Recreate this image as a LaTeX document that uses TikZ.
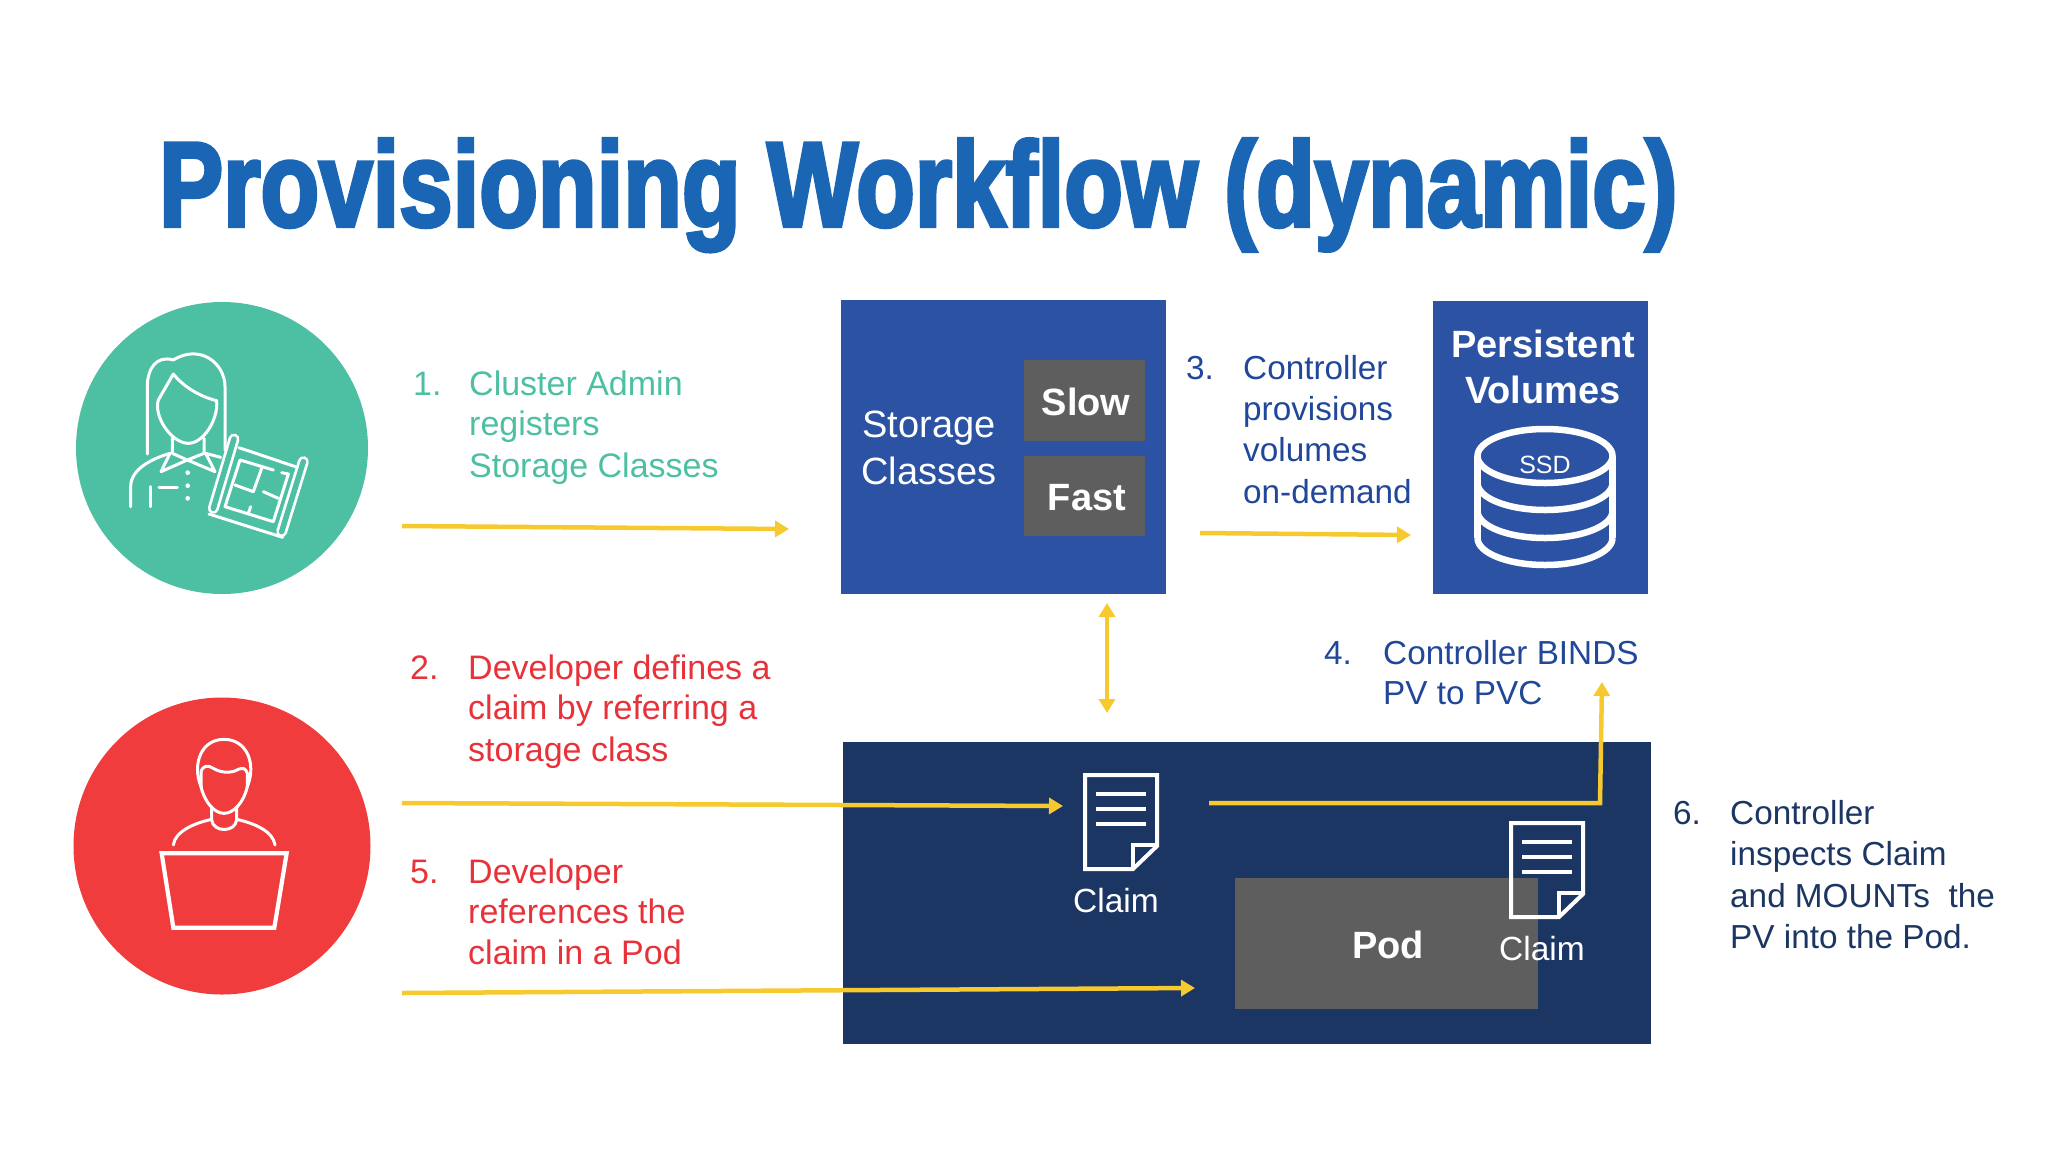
\documentclass[tikz,border=0pt]{standalone}
\usepackage{fontspec}
\setmainfont{Liberation Sans}
\newfontfamily\titlefont[FakeBold=3.5]{Liberation Sans Bold}
\usepackage{tikz}
\usetikzlibrary{arrows.meta}
\definecolor{admingreen}{HTML}{4DBFA3}
\definecolor{devred}{HTML}{F03C3C}
\definecolor{devtext}{HTML}{E8323A}
\definecolor{boxblue}{HTML}{2B52A3}
\definecolor{ctrlblue}{HTML}{21479A}
\definecolor{navy}{HTML}{1C3664}
\definecolor{podgray}{HTML}{5F5E5E}
\definecolor{flowyellow}{HTML}{F6C92E}
\definecolor{titleblue}{HTML}{1A66B5}
\tikzset{
    itemtxt/.style={anchor=base west, inner sep=0pt, font=\fontsize{34}{41}\selectfont},
    ctrltxt/.style={itemtxt, font=\fontsize{33.3}{41}\selectfont},
    boxtxt/.style={anchor=base, inner sep=0pt, text=white, font=\fontsize{38}{46}\selectfont},
    boldtxt/.style={boxtxt, font=\fontsize{38}{46}\selectfont\bfseries},
    panel/.style={anchor=north west, inner sep=0pt, outer sep=0pt},
    person/.style={circle, inner sep=0pt, outer sep=0pt},
    flow/.style={flowyellow, line width=4.5pt, -{Triangle[length=14pt,width=16pt]}},
    iconline/.style={white, line width=3pt, line cap=round, line join=round},
    docline/.style={white, line width=4pt, line join=miter},
}
\begin{document}
\begin{tikzpicture}[x=1pt,y=-1pt]
    \useasboundingbox (0,0) rectangle (2048,1152);

    \node[anchor=base west, inner sep=0pt, xscale=.8, transform shape, text=titleblue,
        font=\fontsize{120}{120}\titlefont] (title) at (159,226) {Provisioning Workflow (dynamic)};

    % round people
    \node[person, fill=admingreen, minimum size=292pt] (admin) at (222,448) {};
    \node[person, fill=devred, minimum size=297pt] (dev) at (222,846) {};

    % admin icon
    \begin{scope}[shift={(60,290)},scale=1/3]
        \draw[iconline] (262,492) -- (262,290) .. controls (262,235) and (290,195) .. (340,210)
            .. controls (420,160) and (495,220) .. (495,290) -- (495,480);
        \draw[iconline] (340,252) .. controls (370,290) and (420,320) .. (470,332)
            .. controls (475,390) and (430,460) .. (385,460)
            .. controls (335,460) and (280,380) .. (295,330) -- cycle;
        \draw[iconline] (337,445) -- (337,490) -- (382,510) -- (432,490) -- (432,445);
        \draw[iconline] (330,490) -- (303,545) -- (382,510) -- (465,545) -- (437,490) -- (482,502);
        \draw[iconline] (212,650) -- (212,590) .. controls (212,535) and (280,505) .. (330,490);
        \draw[iconline] (272,590) -- (272,650) (297,593) -- (352,593);
        \foreach \y in {548,587,625}
            \fill[white] (383,\y) circle (7);
        % blueprint
        \foreach \x/\y/\u/\v in {522/447/460/655, 730/515/665/725} {
            \draw[white, line width=11pt, line cap=round] (\x,\y) -- (\u,\v);
            \draw[admingreen, line width=5.5pt, line cap=round] (\x,\y) -- (\u,\v);
        }
        \draw[iconline] (537,473) -- (712,532);
        \draw[iconline] (447,672) -- (668,742);
        \draw[iconline] (640,540) -- (540,510) -- (495,650) -- (640,695) -- (685,552) -- (665,548);
        \draw[iconline] (525,585) -- (580,605) (610,605) -- (655,625);
        \draw[iconline] (605,535) -- (580,605) (572,650) -- (565,670);
    \end{scope}

    % developer icon
    \begin{scope}[shift={(60,690)},scale=1/3]
        \draw[iconline] (423,290) .. controls (395,220) and (425,148) .. (492,148)
            .. controls (560,148) and (590,220) .. (562,290);
        \draw[iconline] (423,290) -- (423,245) .. controls (430,225) and (445,225) .. (460,235)
            .. controls (485,250) and (515,250) .. (535,238) .. controls (548,232) and (558,235) .. (562,250) -- (562,290);
        \draw[iconline] (423,290) .. controls (435,340) and (465,370) .. (492,370)
            .. controls (520,370) and (550,340) .. (562,290);
        \draw[iconline] (455,350) -- (455,390) .. controls (460,428) and (525,428) .. (530,390) -- (530,350);
        \draw[iconline] (340,465) .. controls (345,425) and (400,400) .. (455,388);
        \draw[iconline] (645,465) .. controls (640,425) and (585,400) .. (530,388);
        \draw[white, line width=4.2pt] (305,490) -- (680,490) -- (643,713) -- (340,713) -- cycle;
    \end{scope}

    % panels
    \node[panel, fill=boxblue, minimum width=325pt, minimum height=294pt] (storage) at (841,300) {};
    \node[panel, fill=boxblue, minimum width=215pt, minimum height=293pt] (pv) at (1433,301) {};
    \node[panel, fill=podgray, minimum width=121pt, minimum height=81pt] (slow) at (1024,360) {};
    \node[panel, fill=podgray, minimum width=121pt, minimum height=80pt] (fast) at (1024,456) {};
    \node[panel, fill=navy, minimum width=808pt, minimum height=302pt] (cluster) at (843,742) {};
    \node[panel, fill=podgray, minimum width=303pt, minimum height=131pt] (pod) at (1235,878) {};

    \foreach \y/\m [count=\i] in {437/Storage, 484/Classes}
        \node[boxtxt] (sc\i) at (929,\y) {\m};
    \node[boldtxt] (slowtxt) at (1086,415) {Slow};
    \node[boldtxt] (fasttxt) at (1087,510) {Fast};
    \foreach \y/\m [count=\i] in {357/Persistent, 403/Volumes}
        \node[boldtxt] (pv\i) at (1543,\y) {\m};
    \node[boldtxt] (podtxt) at (1388,958) {Pod};

    % ssd drum
    \draw[white, line width=6.5pt] (1545,456) ellipse (67.5 and 27);
    \draw[white, line width=6.5pt] (1477.5,456) -- (1477.5,538) (1612.5,456) -- (1612.5,538);
    \foreach \y in {483,511,538}
        \draw[white, line width=6.5pt] (1477.5,\y) .. controls (1477.5,\y+15) and (1508,\y+27) .. (1545,\y+27)
            .. controls (1582,\y+27) and (1612.5,\y+15) .. (1612.5,\y);
    \node[anchor=base, inner sep=0pt, text=white, font=\fontsize{25}{30}\selectfont] (ssd) at (1545,473) {SSD};

    % claim documents
    \foreach \x/\y/\n/\t/\b in {1085/775/a/1116/912, 1511/823/b/1542/960} {
        \draw[docline] (\x,\y) -- ++(72,0) -- ++(0,71) -- ++(-24,23) -- ++(-48,0) -- cycle;
        \draw[docline] (\x+72,\y+70) -- ++(-24,0) -- ++(0,24);
        \foreach \d in {19,34,49}
            \draw[white, line width=4pt] (\x+11,\y+\d) -- ++(50,0);
        \node[boxtxt, font=\fontsize{33.5}{41}\selectfont] (claim\n) at (\t,\b) {Claim};
    }

    % numbered steps
    \node[itemtxt, text=admingreen] (num1) at (413,395) {1.};
    \foreach \y/\m [count=\i] in {395/Cluster Admin, 435/registers, 477/Storage Classes}
        \node[itemtxt, text=admingreen] (adm\i) at (469,\y) {\m};

    \node[itemtxt, text=devtext] (num2) at (410,679) {2.};
    \foreach \y/\m [count=\i] in {679/Developer defines a, 719/claim by referring a, 761/storage class}
        \node[itemtxt, text=devtext] (def\i) at (468,\y) {\m};

    \node[ctrltxt, text=ctrlblue] (num3) at (1186,379) {3.};
    \foreach \y/\m [count=\i] in {379/Controller, 420/provisions, 461/volumes, 503/on-demand}
        \node[ctrltxt, text=ctrlblue] (prov\i) at (1243,\y) {\m};

    \node[ctrltxt, text=ctrlblue] (num4) at (1324,664) {4.};
    \foreach \y/\m [count=\i] in {664/Controller BINDS, 704/PV to PVC}
        \node[ctrltxt, text=ctrlblue] (bind\i) at (1383,\y) {\m};

    \node[itemtxt, text=devtext] (num5) at (410,883) {5.};
    \foreach \y/\m [count=\i] in {883/Developer, 923/references the, 964/claim in a Pod}
        \node[itemtxt, text=devtext] (ref\i) at (468,\y) {\m};

    \node[ctrltxt, text=navy] (num6) at (1673,824) {6.};
    \foreach \y/\m [count=\i] in {824/Controller, 865/inspects Claim, 907/and MOUNTs\ \ the, 948/PV into the Pod.}
        \node[ctrltxt, text=navy] (mount\i) at (1730,\y) {\m};

    % flow arrows
    \coordinate (s1) at (402,526);   \coordinate (e1) at (789,529);
    \coordinate (s2) at (402,803);   \coordinate (e2) at (1063,806);
    \coordinate (s3) at (1200,533);  \coordinate (e3) at (1411,535);
    \coordinate (s4) at (1209,803);  \coordinate (c4) at (1600,803);  \coordinate (e4) at (1602,682);
    \coordinate (s5) at (402,993);   \coordinate (e5) at (1195,988);
    \coordinate (s6) at (1107,603);  \coordinate (e6) at (1107,713);
    \foreach \a/\b in {s1/e1, s2/e2, s3/e3, s5/e5}
        \draw[flow] (\a) -- (\b);
    \draw[flow] (s4) -- (c4) -- (e4);
    \draw[flow, {Triangle[length=14pt,width=16pt]}-{Triangle[length=14pt,width=16pt]}] (s6) -- (e6);
\end{tikzpicture}
\end{document}
